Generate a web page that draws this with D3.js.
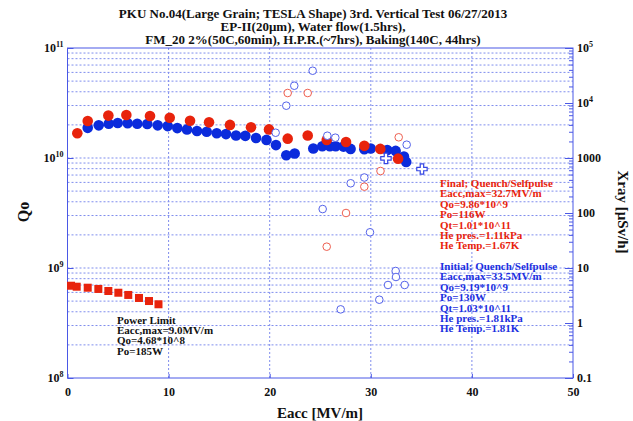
<!DOCTYPE html>
<html>
<head>
<meta charset="utf-8">
<script src="https://cdn.jsdelivr.net/npm/d3@7"></script>
<style>
  html, body { margin: 0; padding: 0; background: #fff; }
  svg { display: block; }
  text { font-family: "Liberation Serif", "Times New Roman", serif; font-weight: bold; }
</style>
</head>
<body>
<svg id="chart" width="633" height="421"></svg>
<script>
// ---- Data ----
// Final test: Qo vs Eacc (filled red circles)
const finalE = [0.97, 2.0, 4.04, 5.82, 8.16, 10.11, 12.12, 14.0, 16.07, 18.15, 19.93, 21.78, 23.76, 25.64, 27.55, 29.36, 30.94, 32.7];
const finalQ = [1.68e10, 2.17e10, 2.43e10, 2.46e10, 2.41e10, 2.32e10, 2.18e10, 2.11e10, 2.0e10, 1.9e10, 1.82e10, 1.5e10, 1.6e10, 1.46e10, 1.4e10, 1.29e10, 1.21e10, 9.86e9];

// Initial test: Qo vs Eacc (filled blue circles)
const initE = [2.0, 3.09, 4.08, 4.97, 5.95, 6.9, 7.89, 8.92, 9.91, 10.86, 11.82, 12.81, 13.77, 14.76, 15.68, 16.67, 17.59, 18.65, 19.68, 20.62, 21.64, 22.47, 24.31, 25.2, 25.95, 26.53, 27.3, 28.0, 29.36, 29.99, 31.63, 32.46, 33.28, 33.5];
const initQ = [1.88e10, 1.98e10, 2.05e10, 2.08e10, 2.07e10, 2.05e10, 2.04e10, 1.98e10, 1.95e10, 1.87e10, 1.82e10, 1.76e10, 1.73e10, 1.68e10, 1.65e10, 1.6e10, 1.59e10, 1.52e10, 1.46e10, 1.31e10, 1.06e10, 1.1e10, 1.22e10, 1.28e10, 1.28e10, 1.28e10, 1.27e10, 1.21e10, 1.2e10, 1.22e10, 1.18e10, 1.16e10, 1.03e10, 9.19e9];

// Power-limited run: Qo vs Eacc (red squares)
const powerE = [0.35, 0.91, 2.0, 3.05, 4.04, 5.03, 6.01, 7.07, 8.06, 9.0];
const powerQ = [6.9e8, 6.76e8, 6.62e8, 6.45e8, 6.18e8, 5.96e8, 5.69e8, 5.34e8, 5.01e8, 4.68e8];

// X-ray dose rate, final test (open red circles, right axis)
const finalXE = [21.78, 23.76, 32.76, 30.96, 29.36, 27.55, 25.64];
const finalX = [15200, 15200, 2380, 580, 301, 100, 24.4];

// X-ray dose rate, initial test (open blue circles, right axis)
const initXE = [24.25, 22.43, 21.64, 20.59, 25.7, 26.49, 33.55, 29.36, 28.01, 25.24, 29.92, 32.46, 32.49, 31.7, 33.35, 30.84, 27.02];
const initX = [38600, 20600, 8930, 2880, 2540, 2340, 1745, 442, 347, 118, 44.6, 8.82, 6.86, 4.91, 4.91, 2.65, 1.77];

// Extra Qo points (open blue crosses)
const crossE = [31.5, 35.06];
const crossQ = [9.93e9, 7.94e9];

// Axis ticks
const xTicks = [0, 10, 20, 30, 40, 50];
const qoDecades = [8, 9, 10, 11];
const xrayTicks = [0.1, 1, 10, 100, 1000, 1e4, 1e5];
const xrayLabels = ["0.1", "1", "10", "100", "1000", "10^4", "10^5"];

// Text blocks
const titleLines = [
  "PKU No.04(Large Grain; TESLA Shape) 3rd. Vertical Test 06/27/2013",
  "EP-II(20μm), Water flow(1.5hrs),",
  "FM_20 2%(50C,60min), H.P.R.(~7hrs), Baking(140C, 44hrs)"
];
const finalNote = ["Final; Quench/Selfpulse", "Eacc,max=32.7MV/m", "Qo=9.86*10^9", "Po=116W", "Qt=1.01*10^11", "He pres.=1.11kPa", "He Temp.=1.67K"];
const initNote = ["Initial; Quench/Selfpulse", "Eacc,max=33.5MV/m", "Qo=9.19*10^9", "Po=130W", "Qt=1.03*10^11", "He pres.=1.81kPa", "He Temp.=1.81K"];
const powerNote = ["Power Limit", "Eacc,max=9.0MV/m", "Qo=4.68*10^8", "Po=185W"];

// ---- Layout ----
const svg = d3.select("#chart");
const L = 67.5, R = 573, T = 48, B = 378;
const RED = "#e8230c", BLUE = "#0b2bdc";
const FRAME = "#4a58e6", GRID = "#7f8ded";

const x = d3.scaleLinear().domain([0, 50]).range([L, R]);
const yQ = d3.scaleLog().domain([1e8, 1e11]).range([B, T]);
const yX = d3.scaleLog().domain([0.1, 1e5]).range([B, T]);

const zip = (a, b) => a.map((v, i) => [v, b[i]]);

// ---- Grid ----
const qoMinor = [];
for (let d = 8; d < 11; d++) for (let m = 1; m <= 9; m++) qoMinor.push(m * Math.pow(10, d));
const grid = svg.append("g");
grid.selectAll("line.h").data(qoMinor.filter(v => v > 1e8)).join("line")
  .attr("x1", L).attr("x2", R)
  .attr("y1", d => yQ(d)).attr("y2", d => yQ(d))
  .attr("stroke", GRID).attr("stroke-width", 1).attr("stroke-dasharray", "2,2");
grid.selectAll("line.v").data(xTicks.slice(1, -1)).join("line")
  .attr("x1", d => x(d)).attr("x2", d => x(d))
  .attr("y1", T).attr("y2", B)
  .attr("stroke", GRID).attr("stroke-width", 1).attr("stroke-dasharray", "2,2");

// ---- Axes ----
const axisStyle = g => {
  g.selectAll("path.domain").remove();
  g.selectAll(".tick line").attr("stroke", FRAME);
  g.selectAll(".tick text").attr("fill", "#111").attr("font-size", 12)
    .attr("font-family", "Liberation Serif, serif").attr("font-weight", "bold");
};

svg.append("g").attr("transform", `translate(0,${B})`)
  .call(d3.axisBottom(x).tickValues(xTicks).tickSize(-4).tickPadding(9).tickFormat(d3.format("d")))
  .call(axisStyle);

// right axis: major and minor ticks pointing inward
const xrayMinor = [];
for (let d = -1; d < 5; d++) for (let m = 2; m <= 9; m++) xrayMinor.push(m * Math.pow(10, d));
svg.append("g").attr("transform", `translate(${R},0)`)
  .call(d3.axisRight(yX).tickValues(xrayMinor).tickSize(-4).tickFormat(""))
  .call(axisStyle);
const rAxis = svg.append("g").attr("transform", `translate(${R},0)`)
  .call(d3.axisRight(yX).tickValues(xrayTicks).tickSize(-8).tickPadding(12).tickFormat(() => ""))
  .call(axisStyle);
rAxis.selectAll(".tick text").each(function(d, i) {
  const t = d3.select(this).attr("x", 4).attr("text-anchor", "start");
  const lab = xrayLabels[i];
  if (lab.includes("^")) {
    const [base, ex] = lab.split("^");
    t.append("tspan").text(base);
    t.append("tspan").attr("dy", -5).attr("font-size", 8).text(ex);
  } else {
    t.text(lab);
  }
});

// left axis: decades with superscript exponents
const lAxis = svg.append("g").attr("transform", `translate(${L},0)`)
  .call(d3.axisLeft(yQ).tickValues(qoDecades.map(d => Math.pow(10, d))).tickSize(-6).tickFormat(""))
  .call(axisStyle);
lAxis.selectAll(".tick text").each(function(d) {
  const t = d3.select(this).attr("x", -4).attr("text-anchor", "end");
  t.append("tspan").text("10");
  t.append("tspan").attr("dy", -5).attr("font-size", 8).text(Math.round(Math.log10(d)));
});

// frame
svg.append("rect").attr("x", L).attr("y", T).attr("width", R - L).attr("height", B - T)
  .attr("fill", "none").attr("stroke", FRAME).attr("stroke-width", 1);

// ---- Marks ----
const marks = svg.append("g");

marks.selectAll("rect.pw").data(zip(powerE, powerQ)).join("rect")
  .attr("x", d => x(d[0]) - 4).attr("y", d => yQ(d[1]) - 4)
  .attr("width", 8).attr("height", 8).attr("fill", RED);

marks.selectAll("circle.ini").data(zip(initE, initQ)).join("circle")
  .attr("cx", d => x(d[0])).attr("cy", d => yQ(d[1])).attr("r", 5.3).attr("fill", BLUE);

marks.selectAll("circle.fin").data(zip(finalE, finalQ)).join("circle")
  .attr("cx", d => x(d[0])).attr("cy", d => yQ(d[1])).attr("r", 5.3).attr("fill", RED);

marks.selectAll("circle.ix").data(zip(initXE, initX)).join("circle")
  .attr("cx", d => x(d[0])).attr("cy", d => yX(d[1])).attr("r", 3.8)
  .attr("fill", "#fff").attr("stroke", "#5563ea").attr("stroke-width", 1);

marks.selectAll("circle.fx").data(zip(finalXE, finalX)).join("circle")
  .attr("cx", d => x(d[0])).attr("cy", d => yX(d[1])).attr("r", 3.8)
  .attr("fill", "#fff").attr("stroke", "#ee5f50").attr("stroke-width", 1);

marks.selectAll("path.cr").data(zip(crossE, crossQ)).join("path")
  .attr("transform", d => `translate(${x(d[0])},${yQ(d[1])})`)
  .attr("d", d3.symbol(d3.symbolCross, 60))
  .attr("fill", "#fff").attr("stroke", "#3445e4").attr("stroke-width", 1.2);

// ---- Text ----
svg.append("g").selectAll("text").data(titleLines).join("text")
  .attr("x", 313).attr("y", (d, i) => 18 + i * 13)
  .attr("text-anchor", "middle").attr("font-size", 13).attr("fill", "#111").text(d => d);

const note = (lines, x0, y0, color, dy) => svg.append("g").selectAll("text").data(lines).join("text")
  .attr("x", x0).attr("y", (d, i) => y0 + i * dy).attr("font-size", 11).attr("fill", color).text(d => d);
note(finalNote, 440, 187, RED, 10.4);
note(initNote, 440, 270, "#1b30e0", 10.4);
note(powerNote, 117, 324, "#111", 10.2);

svg.append("text").attr("x", 320).attr("y", 418).attr("text-anchor", "middle")
  .attr("font-size", 15).attr("fill", "#111").text("Eacc [MV/m]");
svg.append("text").attr("transform", "translate(29,212) rotate(-90)").attr("text-anchor", "middle")
  .attr("font-size", 16).attr("fill", "#111").text("Qo");
svg.append("text").attr("transform", "translate(618,212) rotate(90)").attr("text-anchor", "middle")
  .attr("font-size", 15).attr("fill", "#111").text("Xray [μSv/h]");
</script>
</body>
</html>
